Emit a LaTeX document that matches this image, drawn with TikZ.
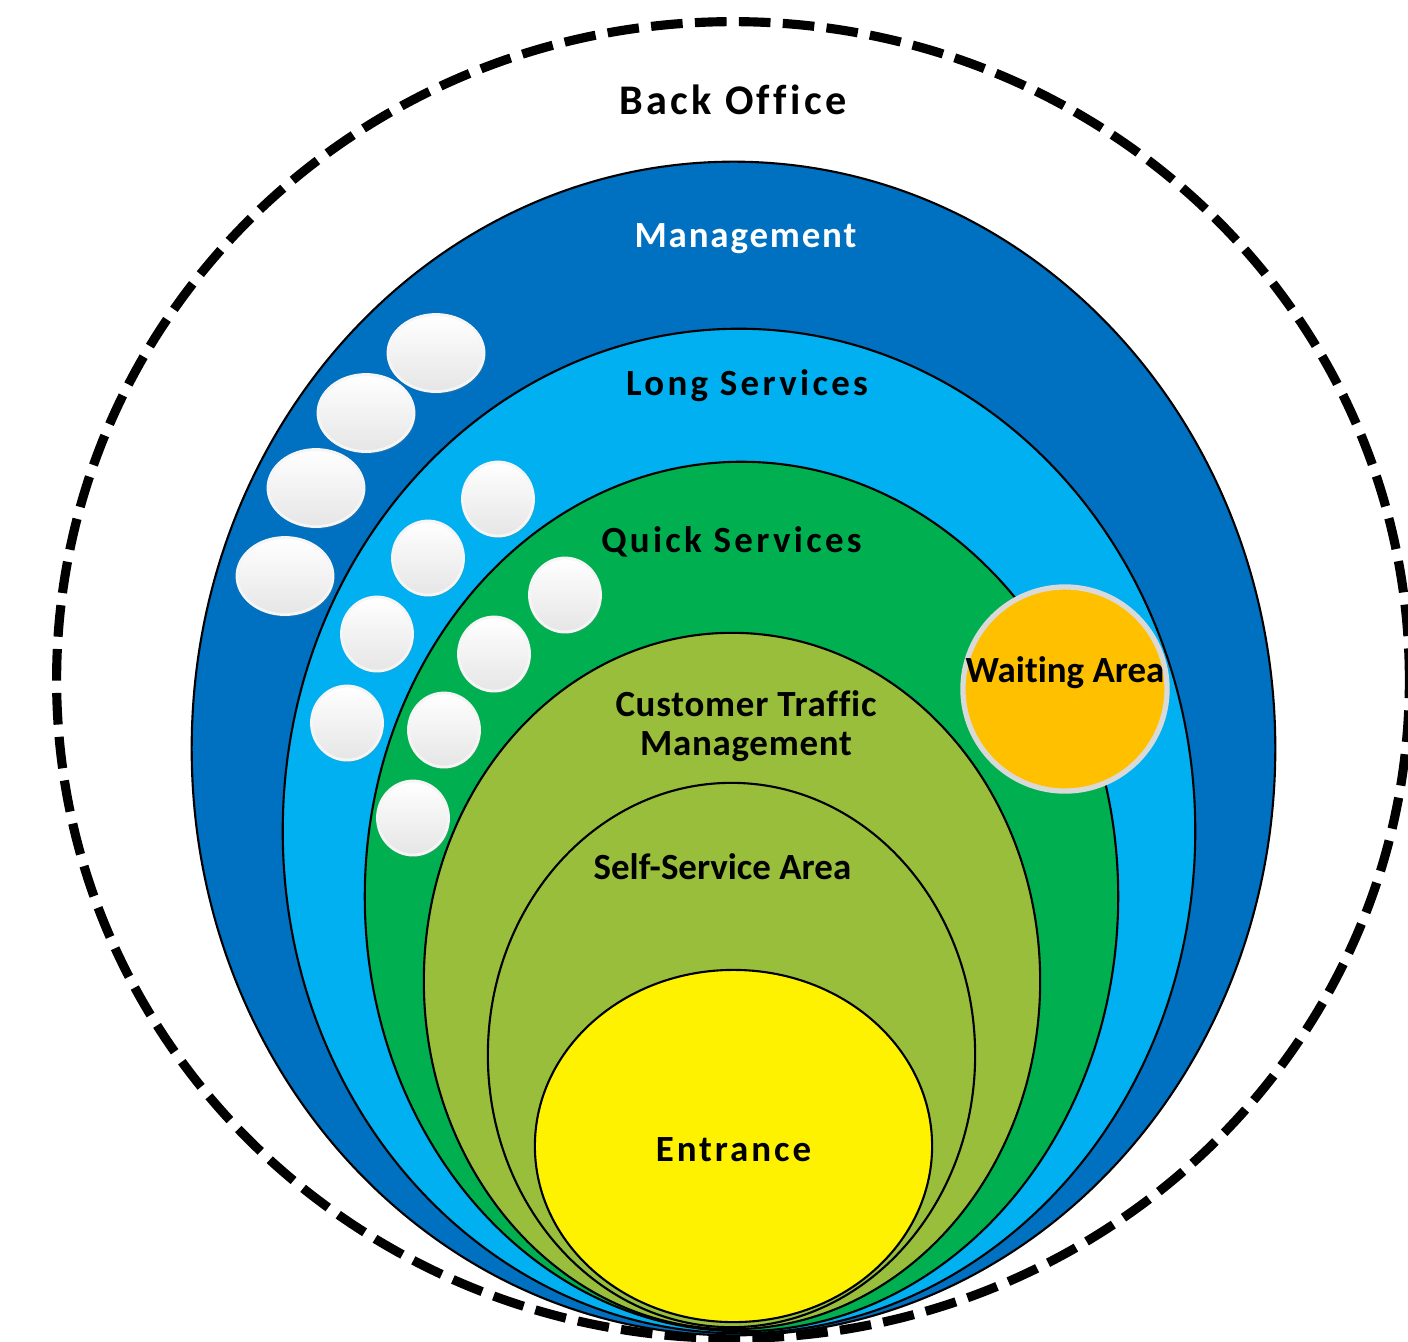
\documentclass[tikz,border=0pt]{standalone}
\usepackage{fontspec}
\newfontfamily\zonefont{Carlito}[Ligatures=NoCommon]
\usepackage{xcolor}
\usetikzlibrary{shapes.geometric}
\usetikzlibrary{positioning}
\usetikzlibrary{shadows}
\definecolor{mgmtblue}{HTML}{0070C0}
\definecolor{longblue}{HTML}{00B0F0}
\definecolor{quickgreen}{HTML}{00B050}
\definecolor{trafficgreen}{RGB}{152,190,60}
\definecolor{waitorange}{HTML}{FFC000}

\begin{document}
\begin{tikzpicture}
	[x=0.01cm, y=-0.01cm, inner sep=0pt,
	zone/.style={ellipse,draw=black,line width=0.6pt},
	seat/.style={ellipse,draw=white!92!gray,line width=0.8pt,top color=white,bottom color=gray!20,
		drop shadow={opacity=0.2,shadow xshift=0.5pt,shadow yshift=-0.7pt}},
	bigseat/.style={seat,minimum width=0.96cm,minimum height=0.77cm},
	smallseat/.style={seat,minimum width=0.71cm,minimum height=0.74cm},
	lbl/.style={font=\zonefont\bfseries\fontsize{10.5}{11}\selectfont\addfontfeature{LetterSpace=#1},
		text height=8pt,text depth=2pt,align=center},
	lbl/.default=0]
	\useasboundingbox (0,0) rectangle (1408,1341);
	% nested zones, outermost first
	\node [ellipse,draw=black,line width=2.6pt,dash pattern=on 9pt off 3.5pt,minimum width=13.52cm,minimum height=13.16cm] (office) at (733,680) {};
	\node [zone,fill=mgmtblue,minimum width=10.83cm,minimum height=11.73cm] (mgmt) at (733.5,748.5) {};
	\node [zone,fill=longblue,minimum width=9.12cm,minimum height=10.04cm] (long) at (739,831) {};
	\node [zone,fill=quickgreen,minimum width=7.53cm,minimum height=8.69cm] (quick) at (741.5,896.5) {};
	\node [zone,fill=trafficgreen,minimum width=6.16cm,minimum height=6.96cm] (traffic) at (732,981) {};
	\node [zone,fill=trafficgreen,minimum width=4.87cm,minimum height=5.44cm] (self) at (731.5,1055) {};
	\node [zone,fill=yellow,minimum width=3.97cm,minimum height=3.52cm] (entry) at (733.5,1146) {};
	% seats
	\node [bigseat] (m1) at (436,353) {};
	\node [bigseat] (m2) at (366,413) {};
	\node [bigseat] (m3) at (316,488) {};
	\node [bigseat] (m4) at (285,576) {};
	\node [smallseat] (l1) at (498,499) {};
	\node [smallseat] (l2) at (428,558) {};
	\node [smallseat] (l3) at (377,634) {};
	\node [smallseat] (l4) at (347,723) {};
	\node [smallseat] (q1) at (565,595) {};
	\node [smallseat] (q2) at (494,654) {};
	\node [smallseat] (q3) at (444,730) {};
	\node [smallseat] (q4) at (413,818) {};
	\node [circle,fill=waitorange,draw=gray!30,line width=1.5pt,minimum size=2.04cm] (wait) at (1065,689) {};
	% labels
	\node [lbl=8,below=0.69cm of office.north] (officelbl) {\fontsize{12}{12}\selectfont Back Office};
	\node [lbl=5,text=white,below=0.58cm of mgmt.north,xshift=0.12cm] (mgmtlbl) {Management};
	\node [lbl=9,below=0.39cm of long.north,xshift=0.08cm] (longlbl) {Long Services};
	\node [lbl=9,below=0.63cm of quick.north,xshift=-0.1cm] (quicklbl) {Quick Services};
	\node [lbl=2,below=0.95cm of traffic.north,xshift=0.14cm] (trafficlbl) {Customer Traffic\\Management};
	\node [lbl,below=0.69cm of self.north,xshift=-0.09cm] (selflbl) {Self-Service Area};
	\node [lbl=8,yshift=-0.05cm] (entrylbl) at (entry) {Entrance};
	\node [lbl,yshift=0.17cm] (waitlbl) at (wait) {Waiting Area};
\end{tikzpicture}
\end{document}
